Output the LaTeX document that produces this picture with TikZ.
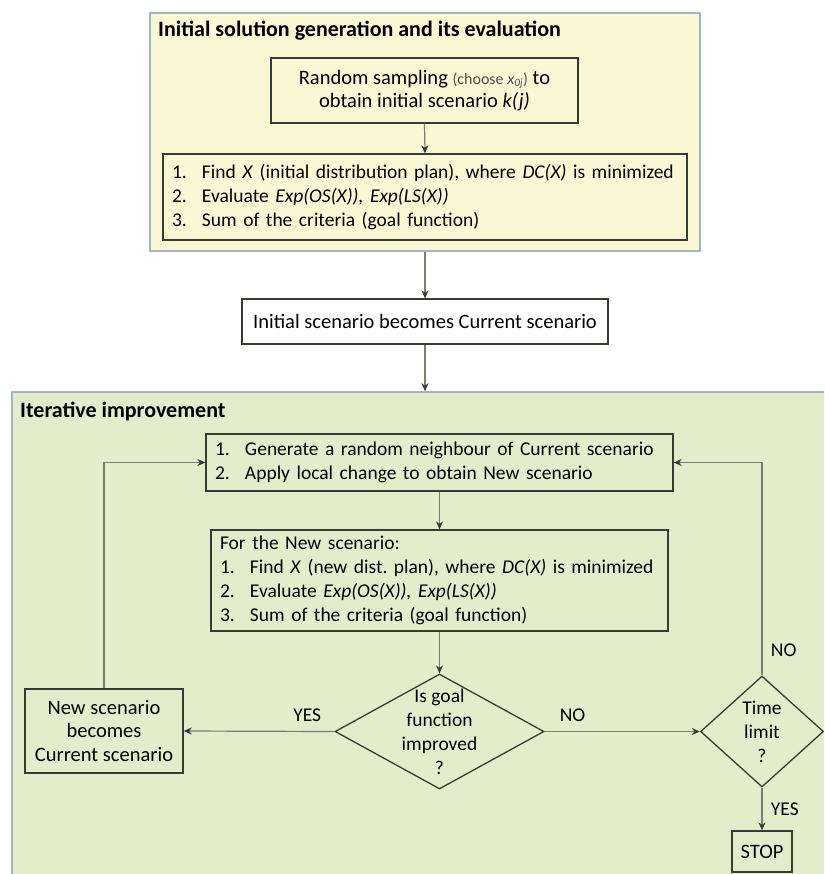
\documentclass[tikz,border=0pt]{standalone}
\usepackage{fontspec}
\setmainfont{Carlito}
\usepackage{tikz}
\usetikzlibrary{arrows.meta,shapes.geometric,positioning}
\definecolor{panelyellow}{RGB}{250,247,212}
\definecolor{panelgreen}{RGB}{227,237,204}
\definecolor{panelline}{RGB}{160,182,192}
\definecolor{boxline}{RGB}{55,60,50}
\definecolor{flowline}{RGB}{120,126,112}
\definecolor{notegray}{RGB}{80,80,80}
\frenchspacing
\tikzset{
    %Define standard arrow tip
    >={Stealth[length=8pt,width=7pt,inset=2.5pt,boxline]},
    %Define style for the two panels
    panel/.style={
           rectangle,
           draw=panelline, line width=1.5pt,
           inner sep=0pt},
    paneltitle/.style={
           anchor=base west,
           inner sep=0pt,
           font=\fontsize{22}{26}\selectfont\bfseries},
    %Define style for boxes
    stepbox/.style={
           rectangle,
           draw=boxline, line width=1.3pt,
           inner xsep=9pt, inner ysep=0pt,
           font=\fontsize{20.5}{23.5}\selectfont,
           align=center},
    listbox/.style={
           stepbox,
           font=\fontsize{19.5}{24}\selectfont,
           align=left},
    decision/.style={
           diamond,
           draw=boxline, line width=1.3pt,
           inner sep=0pt},
    % Define arrow style
    pil/.style={
           ->,
           draw=flowline, line width=1.2pt},
    answer/.style={
           font=\fontsize{19.5}{24}\selectfont}
}
\newcommand{\itm}[1]{\makebox[30pt][l]{#1}}

\begin{document}
\begin{tikzpicture}[x=1pt,y=-1pt]
\useasboundingbox (0,0) rectangle (824,874);
\clip (0,0) rectangle (824,874);

 %panels
\node[panel, fill=panelyellow, minimum width=550pt, minimum height=238pt](initpanel) at (425,132){};
\node[paneltitle](inittitle) at (158,37){Initial solution generation and its evaluation};
\node[panel, fill=panelgreen, minimum width=826pt, minimum height=508pt](iterpanel) at (425,646){};
\node[paneltitle](itertitle) at (20,417){Iterative improvement};

 %nodes
\node[stepbox, minimum width=307pt, minimum height=65pt](sampling) at (424.5,90.5)
    {Random sampling {\fontsize{16}{18}\selectfont\color{notegray}(choose \textit{x}\textsubscript{\textit{0j}})} to\\obtain initial scenario \textit{k(j)}};
\node[listbox, text width=506pt, minimum height=86pt](findinit) at (425,197)
    {\itm{1.}Find \textit{X} (initial distribution plan), where \textit{DC(X)} is minimized\\
     \itm{2.}Evaluate \textit{Exp(OS(X)), Exp(LS(X))}\\
     \itm{3.}Sum of the criteria (goal function)};
\node[stepbox, fill=white, minimum width=366pt, minimum height=45pt](becomes) at (425,321.5)
    {Initial scenario becomes Current scenario};
\node[listbox, text width=449pt, minimum height=57pt](neighbour) at (439.5,462.5)
    {\itm{1.}Generate a random neighbour of Current scenario\\
     \itm{2.}Apply local change to obtain New scenario};
\node[listbox, text width=439pt, minimum height=101pt](evalnew) at (439.5,580.5)
    {For the New scenario:\\
     \itm{1.}Find \textit{X} (new dist. plan), where \textit{DC(X)} is minimized\\
     \itm{2.}Evaluate \textit{Exp(OS(X)), Exp(LS(X))}\\
     \itm{3.}Sum of the criteria (goal function)};
\node[decision, minimum width=209pt, minimum height=115pt,
      label={[answer, align=center]center:Is goal\\function\\improved\\?}](improved) at (439.5,731.5){};
\node[stepbox, minimum width=158pt, minimum height=84pt, inner xsep=2pt](current) at (104,731)
    {New scenario\\becomes\\Current scenario};
\node[decision, minimum width=123pt, minimum height=111pt,
      label={[answer, align=center]center:Time\\limit\\?}](timelimit) at (762,731.5){};
\node[stepbox, minimum width=60pt, minimum height=41pt, inner xsep=2pt](stop) at (762,851.5){STOP};

 %connectors
\draw[pil] (sampling.south) -- (findinit.north);
\draw[pil] (initpanel.south) -- (becomes.north);
\draw[pil] (becomes.south) -- (iterpanel.north);
\draw[pil] (neighbour.south) -- (evalnew.north);
\draw[pil] (evalnew.south) -- (improved.north);
\draw[pil] (improved.west) -- node[answer, above=6pt, pos=0.18]{YES} (current.east);
\draw[pil] (improved.east) -- node[answer, above=6pt, pos=0.18]{NO} (timelimit.west);
\draw[pil] (timelimit.south) -- node[answer, right=5pt]{YES} (stop.north);
\draw[pil] (timelimit.north) |- node[answer, right=5pt, pos=0.06]{NO} (neighbour.east);
\draw[pil] (current.north) |- (neighbour.west);

\end{tikzpicture}
\end{document}
